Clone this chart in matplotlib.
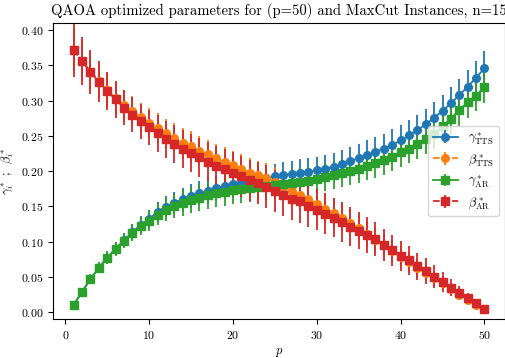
import numpy as np
import matplotlib
matplotlib.use("Agg")
import matplotlib.pyplot as plt

plt.rcParams["font.family"] = "serif"
plt.rcParams["font.serif"] = ["cmr10", "DejaVu Serif"]
plt.rcParams["mathtext.fontset"] = "cm"
plt.rcParams["axes.formatter.use_mathtext"] = True

p = np.arange(1, 51)

# gamma*, TTS
gamma_tts = [0.0105, 0.029, 0.047, 0.063, 0.0775, 0.090, 0.102, 0.1135, 0.124, 0.132,
             0.1425, 0.1496, 0.155, 0.160, 0.165, 0.1685, 0.172, 0.1756, 0.179, 0.1813,
             0.1836, 0.186, 0.188, 0.190, 0.1925, 0.1945, 0.196, 0.1975, 0.199, 0.201,
             0.2035, 0.206, 0.2095, 0.214, 0.2185, 0.2226, 0.227, 0.232, 0.237, 0.2435,
             0.2505, 0.258, 0.2665, 0.2755, 0.2856, 0.296, 0.3078, 0.3196, 0.3323, 0.3456]
gamma_tts_err = [0.004, 0.005, 0.006, 0.007, 0.008, 0.009, 0.010, 0.011, 0.012, 0.013,
                 0.014, 0.015, 0.016, 0.016, 0.017, 0.017, 0.018, 0.018, 0.018, 0.018,
                 0.018, 0.018, 0.018, 0.018, 0.018, 0.018, 0.018, 0.019, 0.019, 0.019,
                 0.019, 0.019, 0.020, 0.020, 0.020, 0.021, 0.021, 0.021, 0.022, 0.022,
                 0.022, 0.022, 0.022, 0.022, 0.022, 0.023, 0.023, 0.024, 0.024, 0.025]

# beta*, TTS
beta_tts = [0.372, 0.356, 0.341, 0.327, 0.315, 0.303, 0.293, 0.285, 0.276, 0.268,
            0.261, 0.2535, 0.2465, 0.240, 0.2355, 0.229, 0.2238, 0.218, 0.213, 0.208,
            0.203, 0.198, 0.194, 0.190, 0.185, 0.178, 0.172, 0.1655, 0.160, 0.154,
            0.147, 0.141, 0.134, 0.127, 0.119, 0.111, 0.103, 0.095, 0.087, 0.079,
            0.071, 0.063, 0.056, 0.048, 0.041, 0.033, 0.025, 0.018, 0.011, 0.004]
beta_tts_err = [0.030, 0.028, 0.026, 0.025, 0.024, 0.023, 0.022, 0.021, 0.021, 0.021,
                0.021, 0.021, 0.021, 0.021, 0.021, 0.021, 0.021, 0.021, 0.021, 0.021,
                0.021, 0.021, 0.021, 0.021, 0.021, 0.021, 0.021, 0.021, 0.020, 0.020,
                0.020, 0.020, 0.019, 0.019, 0.018, 0.018, 0.017, 0.017, 0.016, 0.015,
                0.014, 0.013, 0.012, 0.011, 0.010, 0.009, 0.008, 0.006, 0.004, 0.002]

# gamma*, AR
gamma_ar = [0.0103, 0.029, 0.047, 0.063, 0.0773, 0.0897, 0.1014, 0.1128, 0.1227, 0.1298,
            0.138, 0.1455, 0.150, 0.155, 0.159, 0.1625, 0.166, 0.1685, 0.171, 0.173,
            0.1745, 0.176, 0.1775, 0.179, 0.180, 0.1815, 0.183, 0.1848, 0.1865, 0.189,
            0.1915, 0.1945, 0.1975, 0.200, 0.2035, 0.207, 0.2115, 0.2155, 0.2205, 0.2265,
            0.232, 0.238, 0.245, 0.253, 0.2635, 0.2745, 0.2865, 0.2975, 0.307, 0.3187]
gamma_ar_err = [0.004, 0.005, 0.007, 0.008, 0.009, 0.010, 0.011, 0.012, 0.013, 0.014,
                0.015, 0.016, 0.017, 0.018, 0.018, 0.019, 0.019, 0.020, 0.020, 0.020,
                0.020, 0.020, 0.020, 0.020, 0.020, 0.020, 0.020, 0.020, 0.020, 0.020,
                0.020, 0.020, 0.020, 0.020, 0.020, 0.020, 0.021, 0.021, 0.021, 0.021,
                0.021, 0.021, 0.021, 0.021, 0.021, 0.022, 0.022, 0.022, 0.022, 0.022]

# beta*, AR
beta_ar = [0.3715, 0.356, 0.3404, 0.3266, 0.314, 0.3015, 0.290, 0.280, 0.2705, 0.262,
           0.2535, 0.245, 0.2384, 0.2313, 0.2252, 0.2195, 0.2133, 0.2077, 0.203, 0.1977,
           0.193, 0.187, 0.183, 0.178, 0.172, 0.1665, 0.161, 0.157, 0.1506, 0.1455,
           0.1395, 0.134, 0.128, 0.1215, 0.1155, 0.1095, 0.104, 0.0955, 0.088, 0.080,
           0.0735, 0.065, 0.0585, 0.0505, 0.043, 0.035, 0.027, 0.020, 0.0127, 0.005]
beta_ar_err = [0.038, 0.034, 0.031, 0.029, 0.027, 0.026, 0.025, 0.025, 0.025, 0.025,
               0.026, 0.026, 0.027, 0.027, 0.027, 0.028, 0.028, 0.028, 0.028, 0.029,
               0.029, 0.029, 0.030, 0.030, 0.030, 0.030, 0.030, 0.030, 0.030, 0.029,
               0.029, 0.028, 0.028, 0.027, 0.026, 0.025, 0.024, 0.023, 0.022, 0.021,
               0.020, 0.019, 0.018, 0.016, 0.014, 0.012, 0.010, 0.008, 0.005, 0.002]

fig = plt.figure(figsize=(5.06, 3.58), dpi=100)
ax = fig.add_axes([0.105, 0.109, 0.893, 0.827])

ax.errorbar(p, gamma_tts, yerr=gamma_tts_err, color="tab:blue", marker="o", ms=5.5,
            ls="-", lw=1.3, elinewidth=1.3, label=r"$\gamma^*_{\mathrm{TTS}}$")
ax.errorbar(p, beta_tts, yerr=beta_tts_err, color="tab:orange", marker="o", ms=5.5,
            ls="--", lw=1.3, elinewidth=1.3, label=r"$\beta^*_{\mathrm{TTS}}$")
ax.errorbar(p, gamma_ar, yerr=gamma_ar_err, color="tab:green", marker="s", ms=5.5,
            ls="-", lw=1.3, elinewidth=1.3, label=r"$\gamma^*_{\mathrm{AR}}$")
ax.errorbar(p, beta_ar, yerr=beta_ar_err, color="tab:red", marker="s", ms=5.5,
            ls="--", lw=1.3, elinewidth=1.3, label=r"$\beta^*_{\mathrm{AR}}$")

ax.set_ylim(-0.0095, 0.41)
ax.set_yticks(np.arange(0, 0.41, 0.05))
ax.tick_params(labelsize=8.5)
ax.set_title("QAOA optimized parameters for (p=50) and MaxCut Instances, n=15", fontsize=10.6)
ax.set_xlabel(r"$p$", fontsize=9)
ax.set_ylabel(r"$\gamma_i^*$ ;  $\beta_i^*$", fontsize=9)
ax.legend(loc="center right", fontsize=9)

fig.savefig("out.png", dpi=100)
